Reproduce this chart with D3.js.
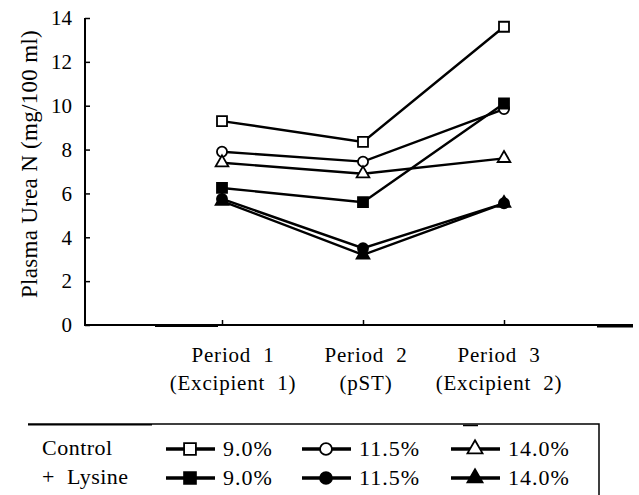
<!doctype html>
<html lang="en">
<head>
<meta charset="utf-8">
<title>Plasma Urea N</title>
<style>
  body { margin: 0; background: #fff; }
</style>
</head>
<body>
<svg id="chart" width="639" height="495"></svg>
<script src="https://d3js.org/d3.v7.min.js"></script>
<script>
// data
const periods = ['Period 1', 'Period 2', 'Period 3'];
const periodSub = ['(Excipient 1)', '(pST)', '(Excipient 2)'];
const yTicks = [0, 2, 4, 6, 8, 10, 12, 14];

const control90 = [9.3, 8.35, 13.6];
const control115 = [7.9, 7.45, 9.85];
const control140 = [7.4, 6.9, 7.6];
const lysine90 = [6.25, 5.6, 10.1];
const lysine115 = [5.75, 3.5, 5.55];
const lysine140 = [5.65, 3.2, 5.55];

const series = [
  { name: 'Control', level: '9.0%', shape: 'square', filled: false, values: control90 },
  { name: 'Control', level: '11.5%', shape: 'circle', filled: false, values: control115 },
  { name: 'Control', level: '14.0%', shape: 'triangle', filled: false, values: control140 },
  { name: '+ Lysine', level: '9.0%', shape: 'square', filled: true, values: lysine90 },
  { name: '+ Lysine', level: '11.5%', shape: 'circle', filled: true, values: lysine115 },
  { name: '+ Lysine', level: '14.0%', shape: 'triangle', filled: true, values: lysine140 },
];

const FONT = '"Liberation Serif", "Times New Roman", serif';
const svg = d3.select('#chart').style('font-family', FONT);

const x = d3.scalePoint().domain(periods).range([222, 504]);
// the category labels in the scan sit a little off their ticks
const xLabel = d3.scalePoint().domain(periods).range([233, 499]);
const y = d3.scaleLinear().domain([0, 14]).range([325, 18]);

const symbolOf = {
  square: d3.symbolSquare,
  circle: d3.symbolCircle,
  triangle: d3.symbolTriangle,
};
const sizeOf = { square: 100, circle: 80, triangle: 70 };

// y axis, ticks pointing inward
const yAxis = svg.append('g')
  .attr('transform', 'translate(85,0)')
  .call(d3.axisLeft(y).tickValues(yTicks).tickSize(-5).tickPadding(13));
yAxis.attr('font-family', null).attr('font-size', null);
yAxis.select('.domain').attr('stroke-width', 2).attr('d', `M0,${y(14)}V${y(0)}`);
yAxis.selectAll('.tick line').attr('stroke-width', 1.5);
yAxis.selectAll('.tick text')
  .style('font-family', FONT)
  .style('font-size', '21px');

// x axis
const xAxis = svg.append('g')
  .attr('transform', `translate(0,${y(0)})`)
  .call(d3.axisTop(x).tickSize(5).tickFormat(''));
xAxis.select('.domain').attr('stroke-width', 2).attr('d', 'M84,0H633');
xAxis.selectAll('.tick line').attr('stroke-width', 1.5);
// heavier stretches of the printed rule
xAxis.append('path')
  .attr('stroke', '#000')
  .attr('stroke-width', 2)
  .attr('d', 'M155,1H218M597,1.5H633');

const xl = svg.append('g').selectAll('g').data(periods).join('g')
  .attr('transform', d => `translate(${xLabel(d)},0)`);
xl.append('text')
  .attr('y', 362)
  .attr('text-anchor', 'middle')
  .style('font-size', '21px')
  .attr('letter-spacing', 0.8)
  .text(d => d.replace(' ', '\u00a0\u00a0'));
xl.append('text')
  .attr('y', 390)
  .attr('text-anchor', 'middle')
  .style('font-size', '21px')
  .attr('letter-spacing', 0.8)
  .text((d, i) => periodSub[i].replace(' ', '\u00a0\u00a0'));

// y label
svg.append('text')
  .attr('transform', 'translate(37,164) rotate(-90)')
  .attr('text-anchor', 'middle')
  .style('font-size', '23px')
  .attr('letter-spacing', 0.3)
  .text('Plasma Urea N (mg/100 ml)');

// lines
const line = d3.line()
  .x((d, i) => x(periods[i]))
  .y(d => y(d));

svg.append('g').selectAll('path').data(series).join('path')
  .attr('fill', 'none')
  .attr('stroke', '#000')
  .attr('stroke-width', 2.4)
  .attr('d', d => line(d.values));

// markers
series.forEach(s => {
  svg.append('g').selectAll('path').data(s.values).join('path')
    .attr('transform', (d, i) => `translate(${x(periods[i])},${y(d)})`)
    .attr('d', d3.symbol(symbolOf[s.shape], sizeOf[s.shape]))
    .attr('fill', s.filled ? '#000' : '#fff')
    .attr('stroke', '#000')
    .attr('stroke-width', 1.8);
});

// legend
const legend = svg.append('g');
legend.append('path')
  .attr('fill', 'none')
  .attr('stroke', '#000')
  .attr('stroke-width', 1.5)
  .attr('d', 'M28,424H599V495');
legend.append('path')
  .attr('stroke', '#000')
  .attr('stroke-width', 1.5)
  .attr('d', 'M28,424.8H152M463,425.5H478');

const rowY = [449, 478];
const colX = [190, 326, 475];
const rowNames = ['Control', '+ Lysine'];
legend.selectAll('text.row').data(rowNames).join('text')
  .attr('class', 'row')
  .attr('x', 42)
  .attr('y', (d, i) => rowY[i] + 6)
  .style('font-size', '22px')
  .attr('letter-spacing', 0.5)
  .text(d => d.replace(' ', '\u00a0\u00a0'));

series.forEach((s, k) => {
  const r = Math.floor(k / 3), c = k % 3;
  const g = legend.append('g').attr('transform', `translate(${colX[c]},${rowY[r]})`);
  g.append('line')
    .attr('x1', -24).attr('x2', 25)
    .attr('stroke', '#000')
    .attr('stroke-width', 3.5);
  g.append('path')
    .attr('d', d3.symbol(symbolOf[s.shape], sizeOf[s.shape] * 1.4)())
    .attr('fill', s.filled ? '#000' : '#fff')
    .attr('stroke', '#000')
    .attr('stroke-width', 1.8);
  g.append('text')
    .attr('x', 33)
    .attr('y', 7)
    .style('font-size', '22px')
    .attr('letter-spacing', 1)
    .text(s.level);
});
</script>
</body>
</html>
